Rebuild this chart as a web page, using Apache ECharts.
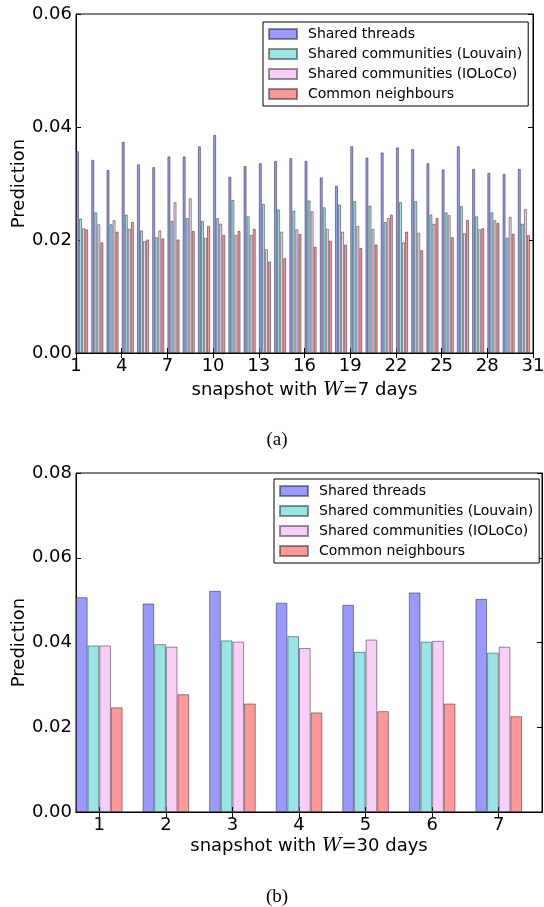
<!DOCTYPE html>
<html><head><meta charset="utf-8">
<script src="https://cdn.jsdelivr.net/npm/echarts@6/dist/echarts.min.js"></script>
<style>html,body{margin:0;padding:0;background:#fff}#c{width:544px;height:907px}</style>
</head><body><div id="c"></div>
<script>
// ---------- data (a): W = 7 days ----------
const snapshotsW7 = [1,2,3,4,5,6,7,8,9,10,11,12,13,14,15,16,17,18,19,20,21,22,23,24,25,26,27,28,29,30];
const tickLabelsW7 = [1,4,7,10,13,16,19,22,25,28,31];
const threadsW7 = [0.0357,0.0342,0.0324,0.0374,0.0334,0.0329,0.0348,0.0348,0.0366,0.0386,0.0312,0.0331,0.0336,0.0340,0.0345,0.0340,0.0311,0.0296,0.0366,0.0346,0.0355,0.0364,0.0361,0.0336,0.0325,0.0366,0.0326,0.0319,0.0317,0.0326];
const louvainW7 = [0.0238,0.0249,0.0228,0.0245,0.0217,0.0205,0.0234,0.0239,0.0234,0.0239,0.0271,0.0242,0.0264,0.0254,0.0252,0.0270,0.0258,0.0263,0.0269,0.0261,0.0232,0.0267,0.0269,0.0245,0.0249,0.0260,0.0242,0.0249,0.0204,0.0229];
const iolocoW7 = [0.0221,0.0228,0.0235,0.0220,0.0198,0.0217,0.0267,0.0274,0.0204,0.0229,0.0209,0.0209,0.0184,0.0215,0.0219,0.0251,0.0220,0.0215,0.0225,0.0220,0.0239,0.0196,0.0213,0.0229,0.0244,0.0212,0.0219,0.0235,0.0241,0.0255];
const commonW7 = [0.0219,0.0196,0.0215,0.0232,0.0201,0.0203,0.0201,0.0216,0.0225,0.0209,0.0216,0.0220,0.0162,0.0168,0.0211,0.0188,0.0199,0.0192,0.0186,0.0192,0.0245,0.0215,0.0182,0.0239,0.0205,0.0236,0.0221,0.0230,0.0211,0.0209];

// ---------- data (b): W = 30 days ----------
const snapshotsW30 = [1,2,3,4,5,6,7];
const tickLabelsW30 = [1,2,3,4,5,6,7];
const threadsW30 = [0.0507,0.0492,0.0522,0.0494,0.0489,0.0518,0.0503];
const louvainW30 = [0.0393,0.0396,0.0405,0.0415,0.0378,0.0402,0.0376];
const iolocoW30 = [0.0393,0.0390,0.0402,0.0387,0.0407,0.0404,0.0390];
const commonW30 = [0.0247,0.0278,0.0256,0.0235,0.0238,0.0256,0.0226];

const seriesNames = ['Shared threads','Shared communities (Louvain)','Shared communities (IOLoCo)','Common neighbours'];

// ---------- styles ----------
const colors = ['#9999ff','#99e5e5','#f8cdf8','#ff9999'];
const FONT = 'DejaVu Sans';
const edge = 'rgba(0,0,0,0.42)';

function xAxes(grid, min, max, ticks, name, nameGap){
  const common = {
    type:'value', gridIndex:grid, min:min, max:max,
    splitLine:{show:false},
    axisLine:{show:true, lineStyle:{color:'#000', width:1}},
  };
  return [
    Object.assign({}, common, {
      position:'bottom',
      axisTick:{show:true, inside:true, length:5, customValues:ticks, lineStyle:{color:'#000'}},
      axisLabel:{show:true, customValues:ticks, fontSize:18, fontFamily:FONT, color:'#000', margin:4},
      name:name, nameLocation:'middle', nameGap:nameGap, nameMoveOverlap:false,
      nameTextStyle:{fontSize:18, fontFamily:FONT, color:'#000',
        rich:{w:{fontSize:19, fontFamily:'DejaVu Serif', fontStyle:'italic', color:'#000'}}}
    }),
    Object.assign({}, common, {
      position:'top',
      axisTick:{show:true, inside:true, length:5, customValues:ticks, lineStyle:{color:'#000'}},
      axisLabel:{show:false}
    })
  ];
}
function yAxes(grid, max){
  const common = {
    type:'value', gridIndex:grid, min:0, max:max, interval:0.02,
    splitLine:{show:false},
    axisLine:{show:true, lineStyle:{color:'#000', width:1}},
    axisTick:{show:true, inside:true, length:5, lineStyle:{color:'#000'}}
  };
  return [
    Object.assign({}, common, {
      position:'left',
      axisLabel:{show:true, fontSize:18, fontFamily:FONT, color:'#000', margin:4,
        formatter:v=>v.toFixed(2)},
      name:'Prediction', nameLocation:'middle', nameGap:48, nameMoveOverlap:false,
      nameTextStyle:{fontSize:18, fontFamily:FONT, color:'#000'}
    }),
    Object.assign({}, common, {position:'right', axisLabel:{show:false}})
  ];
}

function barSeries(axisIdx, xs, valuesList, offset, catGap){
  return valuesList.map((vals,k)=>({
    type:'bar', name:seriesNames[k],
    xAxisIndex:axisIdx, yAxisIndex:axisIdx,
    data: xs.map((s,i)=>[s+offset, vals[i]]),
    barGap:'0%', barCategoryGap:catGap,
    itemStyle:{color:colors[k], borderColor:edge, borderWidth:1},
    emphasis:{disabled:true}
  }));
}

function legend(left, top){
  return {
    data:seriesNames, orient:'vertical', left:left, top:top,
    itemWidth:28, itemHeight:10, itemGap:6, icon:'rect',
    padding:[5,6,5,5],
    backgroundColor:'#fff', borderColor:'#000', borderWidth:1, borderRadius:0,
    selectedMode:false,
    textStyle:{fontSize:14, fontFamily:FONT, color:'#000', padding:[0,0,0,6]}
  };
}

const chart = echarts.init(document.getElementById('c'), null, {renderer:'canvas'});
chart.setOption({
  animation:false,
  backgroundColor:'#fff',
  grid:[
    {left:76, top:14, width:457, height:339, show:true, borderColor:'#000', borderWidth:1, backgroundColor:'transparent', containLabel:false, outerBoundsMode:'none'},
    {left:76, top:473, width:466, height:339, show:true, borderColor:'#000', borderWidth:1, backgroundColor:'transparent', containLabel:false, outerBoundsMode:'none'}
  ],
  xAxis:[
    ...xAxes(0, 1, 31, tickLabelsW7, 'snapshot with {w|W}=7 days', 28),
    ...xAxes(1, 0.65, 7.65, tickLabelsW30, 'snapshot with {w|W}=30 days', 25)
  ],
  yAxis:[
    ...yAxes(0, 0.06),
    ...yAxes(1, 0.08)
  ],
  legend:[legend(263, 22), legend(274, 479)],
  series:[
    ...barSeries(0, snapshotsW7, [threadsW7, louvainW7, iolocoW7, commonW7], 0.4, '20%'),
    ...barSeries(2, snapshotsW30, [threadsW30, louvainW30, iolocoW30, commonW30], 0, '30%')
  ],
  graphic:[
    {type:'text', x:277, y:440, style:{text:'(a)', font:'19px "Liberation Serif"', fill:'#000', textAlign:'center', textVerticalAlign:'middle'}},
    {type:'text', x:277, y:897, style:{text:'(b)', font:'19px "Liberation Serif"', fill:'#000', textAlign:'center', textVerticalAlign:'middle'}}
  ]
});
</script>
</body></html>
